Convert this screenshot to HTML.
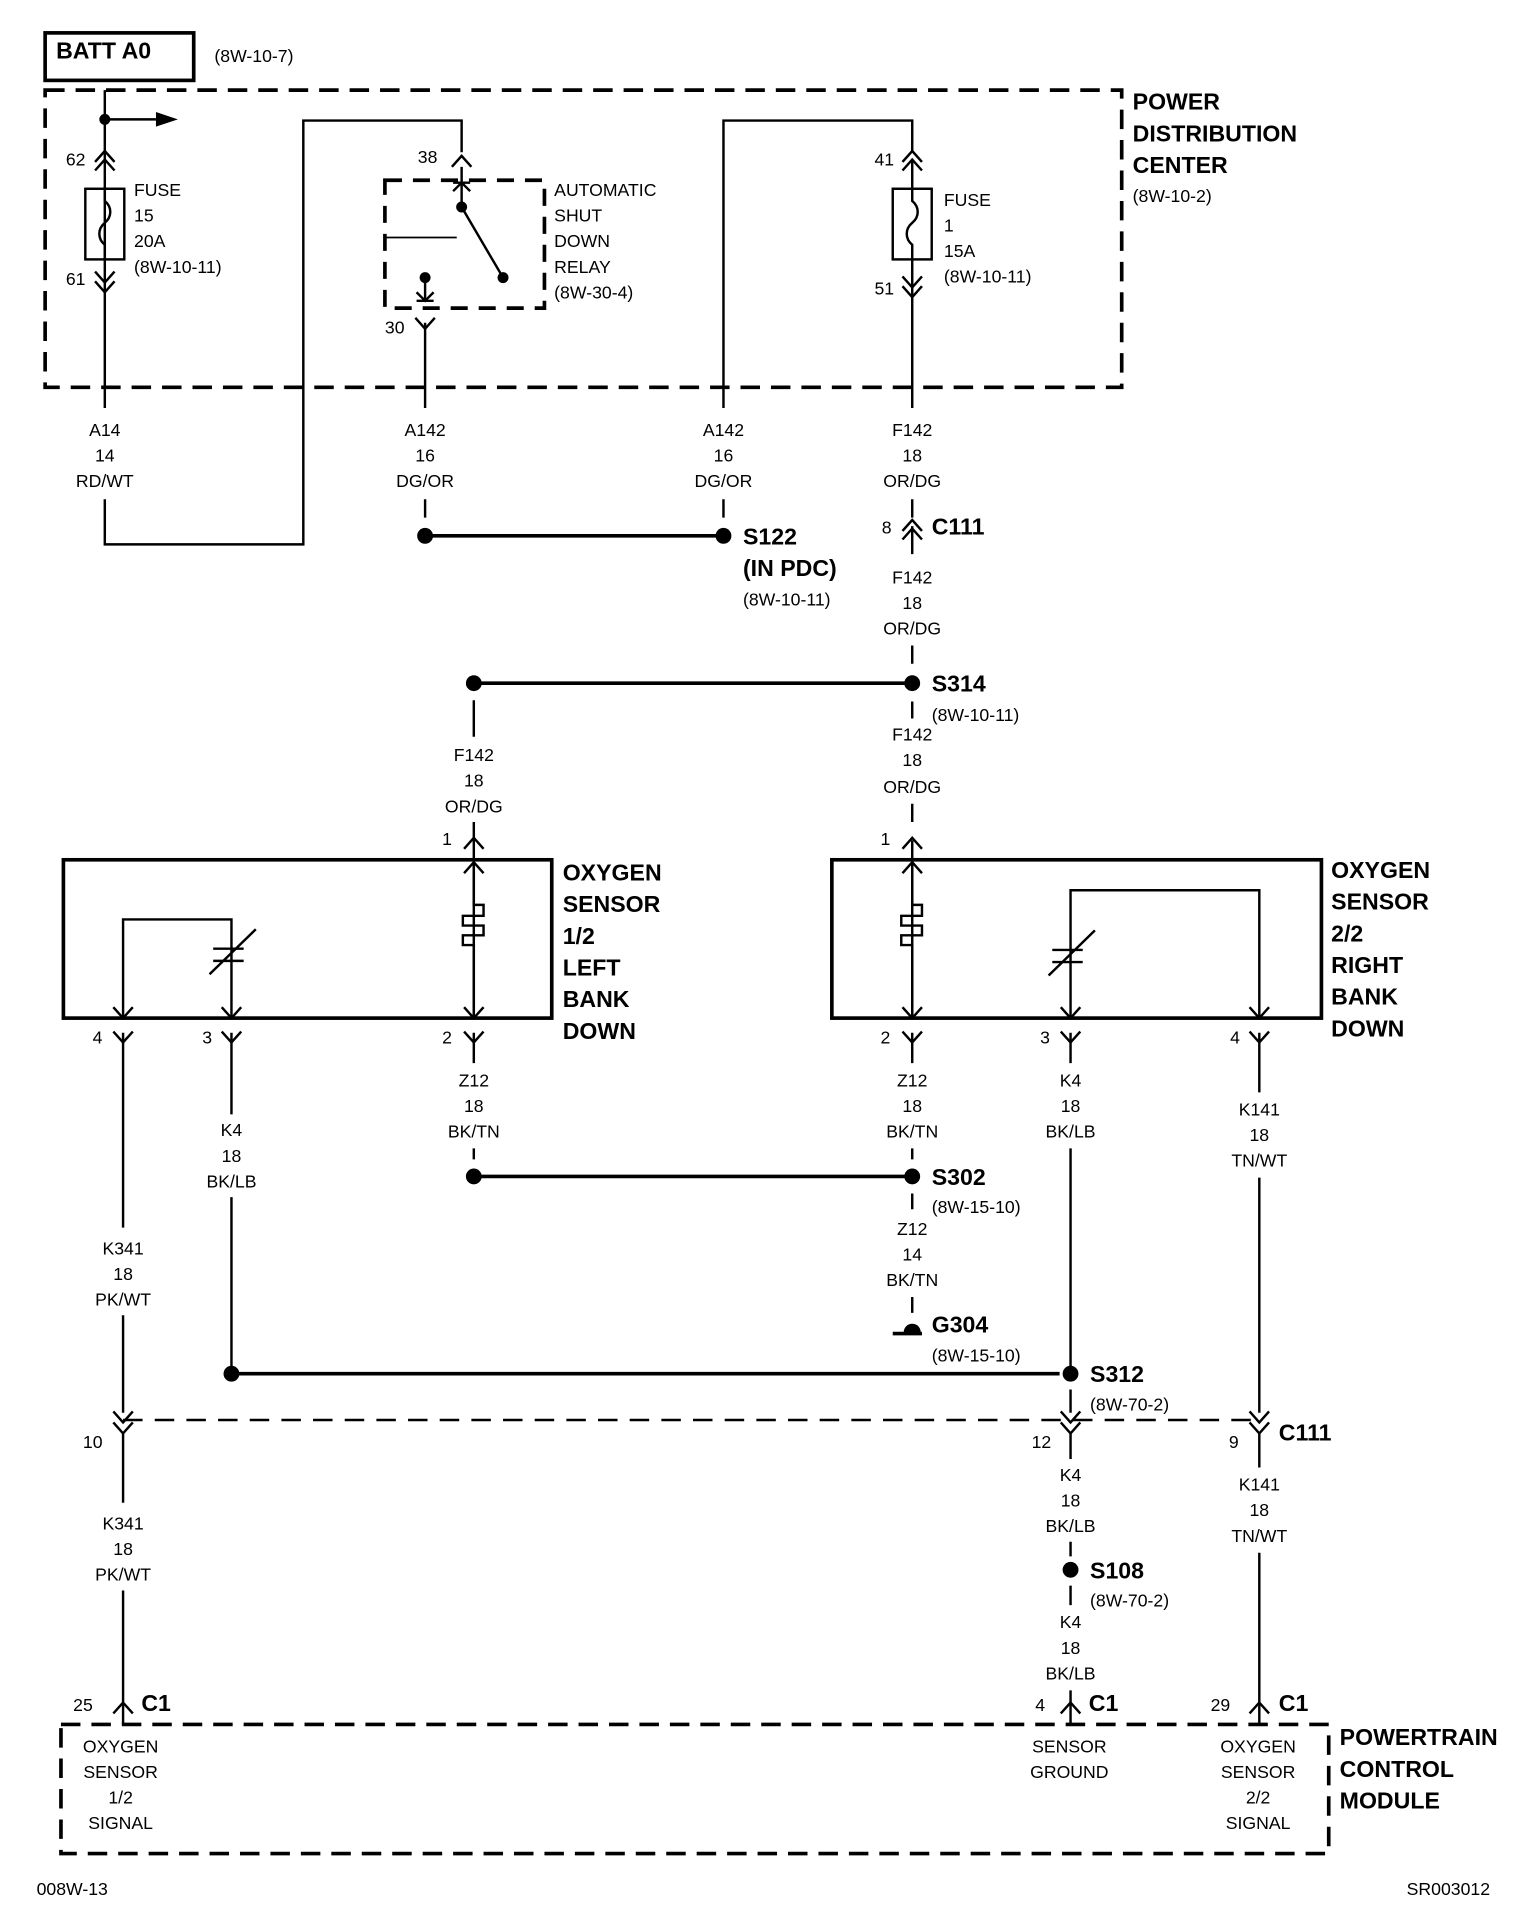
<!DOCTYPE html>
<html><head><meta charset="utf-8"><style>
html,body{margin:0;padding:0;background:#fff}
svg{display:block}
text{font-family:"Liberation Sans Narrow","Liberation Sans",sans-serif;fill:#000}
.s{font-size:14.5px}
.b{font-size:19px;font-weight:bold}
.m{text-anchor:middle}
</style></head><body>
<svg width="1520" height="1912" viewBox="0 0 1248 1570" xmlns="http://www.w3.org/2000/svg">
<defs>
<path id="dn" d="M-8,-9 L0,0 L8,-9" fill="none" stroke="#000" stroke-width="2"/>
<path id="up" d="M-8,9 L0,0 L8,9" fill="none" stroke="#000" stroke-width="2"/>
</defs>
<g fill="none" stroke="#000" stroke-width="2">
<rect x="37" y="27" width="122" height="39" stroke-width="3"/>
<rect x="37" y="74" width="884" height="244" stroke-width="3" stroke-dasharray="16,9"/>
<rect x="316" y="148" width="131" height="105" stroke-width="3" stroke-dasharray="14,9"/>
<line x1="316" y1="195" x2="375" y2="195" stroke-width="1.5"/>
<path d="M86,74 V335 M86,410 V447 H249 V99 H379 V125"/>
<line x1="86" y1="98" x2="128" y2="98"/>
<rect x="70" y="155" width="32" height="58"/>
<path d="M86,155 V165 C92,170 92,178 86,183 C80,188 80,196 86,201 V213"/>
<path d="M379,137 V170 L413,228"/>
<path d="M372,150 H386 M372,157 L379,150 L386,157"/>
<path d="M349,228 V248 M342,247 H356 M342,240 L349,247 L356,240"/>
<path d="M349,265 V335 M349,410 V425"/>
<line x1="349" y1="440" x2="594" y2="440" stroke-width="3"/>
<path d="M594,335 V99 H749 V125 M594,410 V425"/>
<rect x="733" y="155" width="32" height="58"/>
<path d="M749,132 V155 M749,213 V236 M749,155 V165 C755,170 755,178 749,183 C743,188 743,196 749,201 V213"/>
<path d="M749,236 V335 M749,410 V425 M749,432 V455 M749,530 V545 M749,576 V590 M749,660 V675 M749,690 V836"/>
<line x1="389" y1="561" x2="749" y2="561" stroke-width="3"/>
<path d="M389,575 V605 M389,675 V690 M389,690 V836"/>
<rect x="52" y="706" width="401" height="130" stroke-width="3"/>
<rect x="683" y="706" width="402" height="130" stroke-width="3"/>
<path d="M101,836 V755 H190 V836"/>
<path d="M175,779 H200 M175,789 H200 M172,800 L210,763" stroke-width="2"/>
<path d="M389,706 V743 H397 V752 H380 V760 H397 V768 H380 V776 H389 V836" stroke-width="2"/>
<path d="M879,836 V731 H1034 V836"/>
<path d="M864,780 H889 M864,790 H889 M861,801 L899,764"/>
<path d="M749,706 V743 H757 V752 H740 V760 H757 V768 H740 V776 H749 V836"/>
<path d="M101,848 V1008 M101,1080 V1160 M101,1176 V1234 M101,1306 V1398"/>
<path d="M190,848 V915 M190,983 V1128"/>
<path d="M389,848 V873 M389,943 V952"/>
<line x1="389" y1="966" x2="749" y2="966" stroke-width="3"/>
<path d="M749,848 V873 M749,943 V952 M749,980 V993 M749,1065 V1078"/>
<path d="M733,1095 H757" stroke-width="3"/>
<path d="M879,848 V873 M879,943 V1128 M879,1141 V1160 M879,1176 V1198 M879,1266 V1278 M879,1302 V1318 M879,1388 V1398"/>
<path d="M1034,848 V897 M1034,967 V1160 M1034,1176 V1205 M1034,1275 V1398"/>
<line x1="190" y1="1128" x2="870" y2="1128" stroke-width="3"/>
<line x1="101" y1="1166" x2="1034" y2="1166" stroke-width="2" stroke-dasharray="16,10"/>
<rect x="50" y="1416" width="1041" height="106" stroke-width="3" stroke-dasharray="16,9"/>
<path d="M101,1398 V1416 M879,1398 V1416 M1034,1398 V1416"/>
</g>
<polygon points="128,92 146,98 128,104" fill="#000"/>
<use href="#up" x="86" y="124"/><use href="#up" x="86" y="131"/>
<use href="#dn" x="86" y="232"/><use href="#dn" x="86" y="240"/>
<use href="#up" x="379" y="128"/>
<use href="#dn" x="349" y="270"/>
<use href="#up" x="749" y="124"/><use href="#up" x="749" y="131"/>
<use href="#dn" x="749" y="236"/><use href="#dn" x="749" y="244"/>
<use href="#up" x="749" y="427"/><use href="#up" x="749" y="434"/>
<use href="#up" x="389" y="688"/><use href="#up" x="389" y="708"/>
<use href="#up" x="749" y="688"/><use href="#up" x="749" y="708"/>
<use href="#dn" x="101" y="836"/><use href="#dn" x="190" y="836"/><use href="#dn" x="389" y="836"/>
<use href="#dn" x="101" y="856"/><use href="#dn" x="190" y="856"/><use href="#dn" x="389" y="856"/>
<use href="#dn" x="749" y="836"/><use href="#dn" x="879" y="836"/><use href="#dn" x="1034" y="836"/>
<use href="#dn" x="749" y="856"/><use href="#dn" x="879" y="856"/><use href="#dn" x="1034" y="856"/>
<use href="#dn" x="101" y="1168"/><use href="#dn" x="101" y="1177"/>
<use href="#dn" x="879" y="1168"/><use href="#dn" x="879" y="1177"/>
<use href="#dn" x="1034" y="1168"/><use href="#dn" x="1034" y="1177"/>
<use href="#up" x="101" y="1398"/><use href="#up" x="879" y="1398"/><use href="#up" x="1034" y="1398"/>
<g fill="#000">
<circle cx="86" cy="98" r="4.5"/>
<circle cx="379" cy="170" r="4.5"/><circle cx="413" cy="228" r="4.5"/><circle cx="349" cy="228" r="4.5"/>
<circle cx="349" cy="440" r="6.5"/><circle cx="594" cy="440" r="6.5"/>
<circle cx="389" cy="561" r="6.5"/><circle cx="749" cy="561" r="6.5"/>
<circle cx="389" cy="966" r="6.5"/><circle cx="749" cy="966" r="6.5"/>
<circle cx="190" cy="1128" r="6.5"/><circle cx="879" cy="1128" r="6.5"/>
<circle cx="879" cy="1289" r="6.5"/>
<path d="M742,1094 A7,7 0 0 1 756,1094 Z"/>
</g>
<text class="b" x="46" y="48">BATT A0</text>
<text class="s" x="176" y="51">(8W-10-7)</text>
<text class="b" x="930" y="90">POWER</text>
<text class="b" x="930" y="116">DISTRIBUTION</text>
<text class="b" x="930" y="142">CENTER</text>
<text class="s" x="930" y="166">(8W-10-2)</text>
<text class="s" x="54" y="136">62</text>
<text class="s" x="54" y="234">61</text>
<text class="s" x="110" y="161">FUSE</text><text class="s" x="110" y="182">15</text><text class="s" x="110" y="203">20A</text><text class="s" x="110" y="224">(8W-10-11)</text>
<text class="s" x="343" y="134">38</text>
<text class="s" x="316" y="274">30</text>
<text class="s" x="455" y="161">AUTOMATIC</text><text class="s" x="455" y="182">SHUT</text><text class="s" x="455" y="203">DOWN</text><text class="s" x="455" y="224">RELAY</text><text class="s" x="455" y="245">(8W-30-4)</text>
<text class="s" x="718" y="136">41</text>
<text class="s" x="718" y="242">51</text>
<text class="s" x="775" y="169">FUSE</text><text class="s" x="775" y="190">1</text><text class="s" x="775" y="211">15A</text><text class="s" x="775" y="232">(8W-10-11)</text>
<g class="s m">
<text x="86" y="358">A14</text><text x="86" y="379">14</text><text x="86" y="400">RD/WT</text>
<text x="349" y="358">A142</text><text x="349" y="379">16</text><text x="349" y="400">DG/OR</text>
<text x="594" y="358">A142</text><text x="594" y="379">16</text><text x="594" y="400">DG/OR</text>
<text x="749" y="358">F142</text><text x="749" y="379">18</text><text x="749" y="400">OR/DG</text>
<text x="749" y="479">F142</text><text x="749" y="500">18</text><text x="749" y="521">OR/DG</text>
<text x="749" y="608">F142</text><text x="749" y="629">18</text><text x="749" y="651">OR/DG</text>
<text x="389" y="625">F142</text><text x="389" y="646">18</text><text x="389" y="667">OR/DG</text>
<text x="389" y="892">Z12</text><text x="389" y="913">18</text><text x="389" y="934">BK/TN</text>
<text x="190" y="933">K4</text><text x="190" y="954">18</text><text x="190" y="975">BK/LB</text>
<text x="101" y="1030">K341</text><text x="101" y="1051">18</text><text x="101" y="1072">PK/WT</text>
<text x="749" y="892">Z12</text><text x="749" y="913">18</text><text x="749" y="934">BK/TN</text>
<text x="749" y="1014">Z12</text><text x="749" y="1035">14</text><text x="749" y="1056">BK/TN</text>
<text x="879" y="892">K4</text><text x="879" y="913">18</text><text x="879" y="934">BK/LB</text>
<text x="1034" y="916">K141</text><text x="1034" y="937">18</text><text x="1034" y="958">TN/WT</text>
<text x="101" y="1256">K341</text><text x="101" y="1277">18</text><text x="101" y="1298">PK/WT</text>
<text x="879" y="1216">K4</text><text x="879" y="1237">18</text><text x="879" y="1258">BK/LB</text>
<text x="879" y="1337">K4</text><text x="879" y="1358">18</text><text x="879" y="1379">BK/LB</text>
<text x="1034" y="1224">K141</text><text x="1034" y="1245">18</text><text x="1034" y="1266">TN/WT</text>
<text x="99" y="1439">OXYGEN</text><text x="99" y="1460">SENSOR</text><text x="99" y="1481">1/2</text><text x="99" y="1502">SIGNAL</text>
<text x="878" y="1439">SENSOR</text><text x="878" y="1460">GROUND</text>
<text x="1033" y="1439">OXYGEN</text><text x="1033" y="1460">SENSOR</text><text x="1033" y="1481">2/2</text><text x="1033" y="1502">SIGNAL</text>
</g>
<text class="s" x="724" y="438">8</text><text class="b" x="765" y="439">C111</text>
<text class="b" x="610" y="447">S122</text><text class="b" x="610" y="473">(IN PDC)</text><text class="s" x="610" y="497">(8W-10-11)</text>
<text class="b" x="765" y="568">S314</text><text class="s" x="765" y="592">(8W-10-11)</text>
<text class="s" x="363" y="694">1</text><text class="s" x="723" y="694">1</text>
<text class="b" x="462" y="723">OXYGEN</text><text class="b" x="462" y="749">SENSOR</text><text class="b" x="462" y="775">1/2</text><text class="b" x="462" y="801">LEFT</text><text class="b" x="462" y="827">BANK</text><text class="b" x="462" y="853">DOWN</text>
<text class="b" x="1093" y="721">OXYGEN</text><text class="b" x="1093" y="747">SENSOR</text><text class="b" x="1093" y="773">2/2</text><text class="b" x="1093" y="799">RIGHT</text><text class="b" x="1093" y="825">BANK</text><text class="b" x="1093" y="851">DOWN</text>
<text class="s" x="76" y="857">4</text><text class="s" x="166" y="857">3</text><text class="s" x="363" y="857">2</text>
<text class="s" x="723" y="857">2</text><text class="s" x="854" y="857">3</text><text class="s" x="1010" y="857">4</text>
<text class="b" x="765" y="973">S302</text><text class="s" x="765" y="996">(8W-15-10)</text>
<text class="b" x="765" y="1094">G304</text><text class="s" x="765" y="1118">(8W-15-10)</text>
<text class="b" x="895" y="1135">S312</text><text class="s" x="895" y="1158">(8W-70-2)</text>
<text class="s" x="68" y="1189">10</text><text class="s" x="847" y="1189">12</text><text class="s" x="1009" y="1189">9</text>
<text class="b" x="1050" y="1183">C111</text>
<text class="b" x="895" y="1296">S108</text><text class="s" x="895" y="1319">(8W-70-2)</text>
<text class="s" x="60" y="1405">25</text><text class="b" x="116" y="1405">C1</text>
<text class="s" x="850" y="1405">4</text><text class="b" x="894" y="1405">C1</text>
<text class="s" x="994" y="1405">29</text><text class="b" x="1050" y="1405">C1</text>
<text class="b" x="1100" y="1433">POWERTRAIN</text><text class="b" x="1100" y="1459">CONTROL</text><text class="b" x="1100" y="1485">MODULE</text>
<text class="s" x="30" y="1556">008W-13</text>
<text class="s" x="1155" y="1556">SR003012</text>
</svg>
</body></html>
